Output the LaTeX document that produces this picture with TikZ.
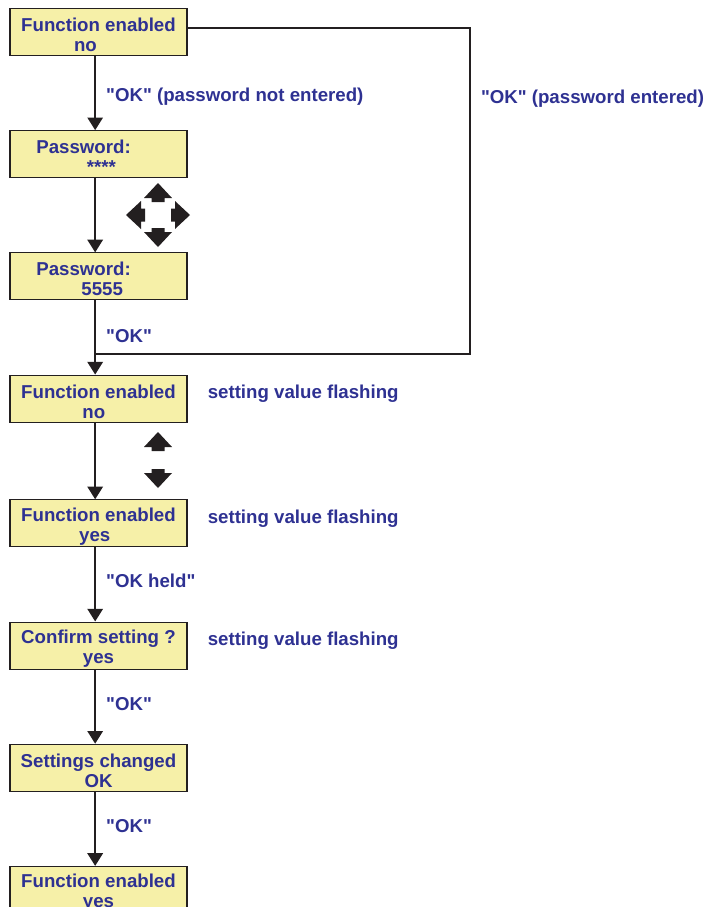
\documentclass[tikz,border=0pt]{standalone}
\usepackage{fontspec}
\setmainfont{Liberation Sans}
\usetikzlibrary{positioning,arrows.meta}

\definecolor{menublue}{HTML}{2E3192}
\definecolor{menufill}{HTML}{F6F0A8}
\definecolor{menuline}{HTML}{231F20}

\newcommand{\qt}[1]{\textquotedbl#1\textquotedbl}
\newcommand{\topstrut}{\rule{0pt}{14.5pt}}

\tikzset{
  pics/keyarr/.style={code={
    \fill[menuline] (-6.5,-#1) -- (-6.5,-#1-4) -- (-14,-#1-4) -- (0,-#1-19)
      -- (14,-#1-4) -- (6.5,-#1-4) -- (6.5,-#1) -- cycle;
  }}
}

\begin{document}
\begin{tikzpicture}[x=0.75pt,y=-0.75pt,
    font=\bfseries\fontsize{14}{15}\selectfont,
    node distance=55.6pt,
    menubox/.style={draw=menuline,fill=menufill,line width=0.8pt,
      minimum width=132.75pt,minimum height=35.25pt,align=center,
      text=menublue,inner sep=0pt},
    lbl/.style={text=menublue,inner sep=0pt},
    edgelbl/.style={lbl,anchor=base west,xshift=7.5pt,yshift=-2.6pt},
    conn/.style={draw=menuline,line width=1.5pt},
    flow/.style={conn,transform canvas={xshift=-2.5pt},
      -{Triangle[width=11.5pt,length=9.5pt]}}]

  \useasboundingbox (0,0) rectangle (706,907);

  % menu screens
  \node[menubox] (fen1) at (98.5,32) {\topstrut Function enabled\\no\hspace*{1.4em}};
  \node[menubox,below=of fen1] (pw1) {\topstrut Password:\hspace*{1.6em}\\\hspace*{0.3em}****};
  \node[menubox,below=of pw1] (pw2) {\topstrut Password:\hspace*{1.6em}\\\hspace*{0.4em}5555};
  \node[menubox,below=of pw2] (fen2) {\topstrut Function enabled\\no\hspace*{0.5em}};
  \node[menubox,below=57.5pt of fen2] (fen3) {\topstrut Function enabled\\yes\hspace*{0.4em}};
  \node[menubox,below=of fen3] (conf) {\topstrut Confirm setting ?\\yes};
  \node[menubox,below=of conf] (chg) {\topstrut Settings changed\\OK};
  \node[menubox,below=of chg] (fen4) {\topstrut Function enabled\\yes};

  \node[lbl,right=15pt of fen2,yshift=3.5pt] (flash1) {setting value flashing};
  \node[lbl,right=15pt of fen3,yshift=3.5pt] (flash2) {setting value flashing};
  \node[lbl,right=15pt of conf,yshift=3.5pt] (flash3) {setting value flashing};

  % keys
  \coordinate (keys) at (158,215);
  \pic at (keys) {keyarr=13};
  \pic[rotate=90] at (keys) {keyarr=13};
  \pic[rotate=180] at (keys) {keyarr=13};
  \pic[rotate=-90] at (keys) {keyarr=13};
  \coordinate (updown) at (158,460);
  \pic at (updown) {keyarr=9};
  \pic[rotate=180] at (updown) {keyarr=9};

  % connectors
  \draw[flow] (fen1) -- node[edgelbl,yshift=-3.5pt] {\qt{OK} (password not entered)} (pw1);
  \draw[flow] (pw1) -- (pw2);
  \draw[flow] (pw2) -- node[edgelbl,yshift=-1pt] {\qt{OK}} (fen2);
  \draw[flow] (fen2) -- (fen3);
  \draw[flow] (fen3) -- node[edgelbl] {\qt{OK held}} (conf);
  \draw[flow] (conf) -- node[edgelbl] {\qt{OK}} (chg);
  \draw[flow] (chg) -- node[edgelbl] {\qt{OK}} (fen4);

  \coordinate (loopcorner) at (470,28);
  \coordinate (join) at ([xshift=-2.5pt,yshift=-40pt]pw2.south);
  \draw[conn] (fen1.east |- loopcorner) -- (loopcorner)
    |- node[edgelbl,pos=0.11] {\qt{OK} (password entered)} (join);
\end{tikzpicture}
\end{document}
